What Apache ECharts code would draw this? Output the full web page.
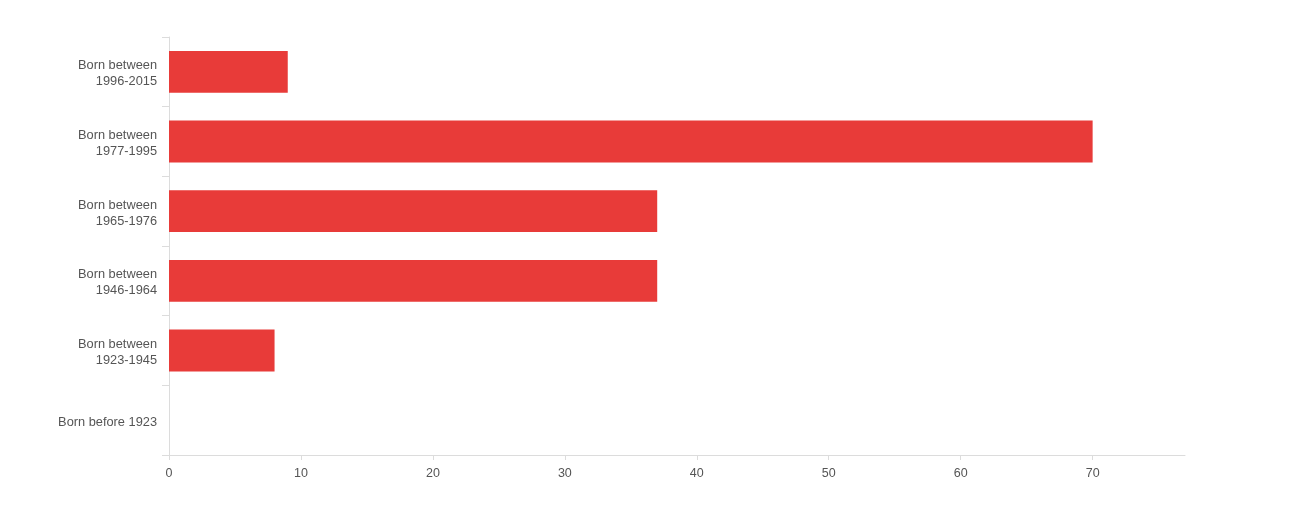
<!DOCTYPE html>
<html>
<head>
<meta charset="utf-8">
<style>html,body{margin:0;padding:0;background:#fff;}#chart{width:1291px;height:507px;}</style>
<script src="https://cdn.jsdelivr.net/npm/echarts@6/dist/echarts.min.js"></script>
</head>
<body>
<div id="chart"></div>
<script>
const categories = ['Born before 1923', 'Born between\n1923-1945', 'Born between\n1946-1964', 'Born between\n1965-1976', 'Born between\n1977-1995', 'Born between\n1996-2015'];
const values = [0, 8, 37, 37, 70, 9];
const xTickValues = [0, 10, 20, 30, 40, 50, 60, 70];
const xMax = 77;

const chart = echarts.init(document.getElementById('chart'));
chart.setOption({
  animation: false,
  grid: { left: 169, right: 106, top: 37, bottom: 52, containLabel: false },
  xAxis: {
    type: 'value', min: 0, max: xMax, interval: 10,
    splitLine: { show: false },
    axisLine: { show: true, lineStyle: { color: '#dcdcdc', width: 1 } },
    axisTick: { show: true, length: 5, lineStyle: { color: '#dcdcdc' }, customValues: xTickValues },
    axisLabel: { color: '#555', fontSize: 12.5, fontFamily: 'Liberation Sans, Arial, sans-serif', margin: 12,
      customValues: xTickValues }
  },
  yAxis: {
    type: 'category', data: categories,
    axisLine: { show: true, lineStyle: { color: '#dcdcdc', width: 1 } },
    axisTick: { show: true, length: 7, lineStyle: { color: '#dcdcdc' } },
    axisLabel: { color: '#555', fontSize: 12.8, lineHeight: 16, fontFamily: 'Liberation Sans, Arial, sans-serif', margin: 12, align: 'right',
      formatter: v => v.split('\n').map(s => '{a|' + s + '}').join('\n'),
      rich: { a: { fontSize: 12.8, lineHeight: 16, color: '#555', fontFamily: 'Liberation Sans, Arial, sans-serif', padding: [4, 0, 0, 0] } } }
  },
  series: [{
    type: 'bar', data: values, barCategoryGap: '40%',
    itemStyle: { color: '#e83b39' }
  }]
});
</script>
</body>
</html>
